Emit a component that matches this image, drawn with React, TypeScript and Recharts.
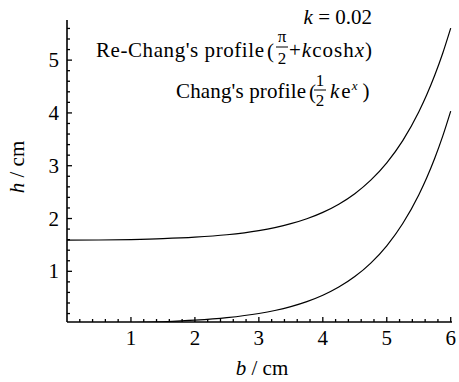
import React from 'react';
import { LineChart, Line, XAxis, YAxis } from 'recharts';

const reChangB = [0, 0.5, 1, 1.5, 2, 2.5, 3, 3.25, 3.5, 3.75, 4, 4.25, 4.5, 4.75, 5, 5.25, 5.5, 5.625, 5.75, 5.875, 6];
const reChangH = [1.59, 1.593, 1.602, 1.618, 1.646, 1.693, 1.772, 1.829, 1.902, 1.996, 2.117, 2.272, 2.471, 2.727, 3.055, 3.476, 4.018, 4.343, 4.712, 5.13, 5.605];

const changB = [0.6, 1, 1.5, 2, 2.5, 3, 3.25, 3.5, 3.75, 4, 4.25, 4.5, 4.75, 5, 5.25, 5.5, 5.625, 5.75, 5.875, 6];
const changH = [0.018, 0.027, 0.045, 0.074, 0.122, 0.201, 0.258, 0.331, 0.425, 0.546, 0.701, 0.9, 1.156, 1.484, 1.906, 2.447, 2.772, 3.142, 3.56, 4.034];

const xTicks = [0.2, 0.4, 0.6, 0.8, 1, 1.2, 1.4, 1.6, 1.8, 2, 2.2, 2.4, 2.6, 2.8, 3, 3.2, 3.4, 3.6, 3.8, 4, 4.2, 4.4, 4.6, 4.8, 5, 5.2, 5.4, 5.6, 5.8, 6];
const yTicks = [0.2, 0.4, 0.6, 0.8, 1, 1.2, 1.4, 1.6, 1.8, 2, 2.2, 2.4, 2.6, 2.8, 3, 3.2, 3.4, 3.6, 3.8, 4, 4.2, 4.4, 4.6, 4.8, 5, 5.2, 5.4, 5.6];

const reChangData = reChangB.map((b, i) => ({ b, h: reChangH[i] }));
const changData = changB.map((b, i) => ({ b, h: changH[i] }));

const FONT = '"Liberation Serif", "Times New Roman", Times, "DejaVu Serif", serif';
const serif: React.CSSProperties = { fontFamily: FONT };
const isMajor = (v: number) => Math.abs(v - Math.round(v)) < 1e-6;

const XTick = (props: any) => {
  const { x, y, payload } = props;
  const major = isMajor(payload.value);
  return (
    <g>
      <line x1={x} y1={y} x2={x} y2={y - (major ? 5 : 3)} stroke="#000" strokeWidth={1.3} />
      {major && (
        <text x={x} y={y + 23} textAnchor="middle" fontFamily={FONT} style={serif} fontSize={21} fill="#000">
          {Math.round(payload.value)}
        </text>
      )}
    </g>
  );
};

const YTick = (props: any) => {
  const { x, y, payload } = props;
  const major = isMajor(payload.value);
  return (
    <g>
      <line x1={x} y1={y} x2={x + (major ? 5 : 3)} y2={y} stroke="#000" strokeWidth={1.3} />
      {major && (
        <text x={x - 8} y={y + 7} textAnchor="end" fontFamily={FONT} style={serif} fontSize={21} fill="#000">
          {Math.round(payload.value)}
        </text>
      )}
    </g>
  );
};

export default function App() {
  return (
    <div style={{ position: 'absolute', left: 0, top: 0, width: 459, height: 382, background: '#fff', fontFamily: FONT }}>
      <LineChart width={459} height={382} margin={{ top: 20, right: 7, bottom: 30, left: 7 }}>
        <XAxis
          dataKey="b"
          type="number"
          domain={[0, 6.02]}
          allowDataOverflow
          ticks={xTicks}
          interval={0}
          tick={<XTick />}
          tickLine={false}
          tickSize={0}
          tickMargin={0}
          height={30}
          axisLine={{ stroke: '#000', strokeWidth: 1.6 }}
        />
        <YAxis
          type="number"
          domain={[0.04, 5.76]}
          allowDataOverflow
          ticks={yTicks}
          interval={0}
          tick={<YTick />}
          tickLine={false}
          tickSize={0}
          tickMargin={0}
          width={60}
          axisLine={{ stroke: '#000', strokeWidth: 1.6 }}
        />
        <Line data={reChangData} dataKey="h" type="monotone" stroke="#000" strokeWidth={1.2} dot={false} isAnimationActive={false} />
        <Line data={changData} dataKey="h" type="monotone" stroke="#000" strokeWidth={1.2} dot={false} isAnimationActive={false} />
      </LineChart>
      <svg width={459} height={382} style={{ position: 'absolute', left: 0, top: 0, pointerEvents: 'none', ...serif }} fontFamily={FONT} fill="#000">
        <text x={262} y={375} textAnchor="middle" fontSize={21}>
          <tspan fontStyle="italic">b</tspan> / cm
        </text>
        <text x={24} y={167} textAnchor="middle" fontSize={21} transform="rotate(-90 24 167)">
          <tspan fontStyle="italic">h</tspan> / cm
        </text>
        <text x={372} y={24} textAnchor="end" fontSize={21}>
          <tspan fontStyle="italic">k</tspan>{' = 0.02'}
        </text>
        <text x={96} y={57} fontSize={21} textLength={168} lengthAdjust="spacing">Re-Chang's  profile</text>
        <text x={267} y={58} fontSize={21}>(</text>
        <text x={282} y={42} fontSize={17} textAnchor="middle">π</text>
        <line x1={276} y1={47} x2={288} y2={47} stroke="#000" strokeWidth={1} />
        <text x={282} y={64} fontSize={17} textAnchor="middle">2</text>
        <text x={289} y={57} fontSize={21} textLength={83} lengthAdjust="spacing">
          +<tspan fontStyle="italic">k</tspan>cosh<tspan fontStyle="italic">x</tspan>)
        </text>
        <text x={176} y={98} fontSize={21} textLength={130} lengthAdjust="spacing">Chang's  profile</text>
        <text x={309} y={99} fontSize={21}>(</text>
        <text x={320} y={86} fontSize={17} textAnchor="middle">1</text>
        <line x1={314} y1={90} x2={326} y2={90} stroke="#000" strokeWidth={1} />
        <text x={320} y={106} fontSize={17} textAnchor="middle">2</text>
        <text x={330} y={98} fontSize={21}>
          <tspan fontStyle="italic">k</tspan><tspan dx={2}>e</tspan><tspan fontStyle="italic" fontSize={13} dx={1} dy={-8}>x</tspan>
          <tspan dy={8} dx={5}>)</tspan>
        </text>
      </svg>
    </div>
  );
}
